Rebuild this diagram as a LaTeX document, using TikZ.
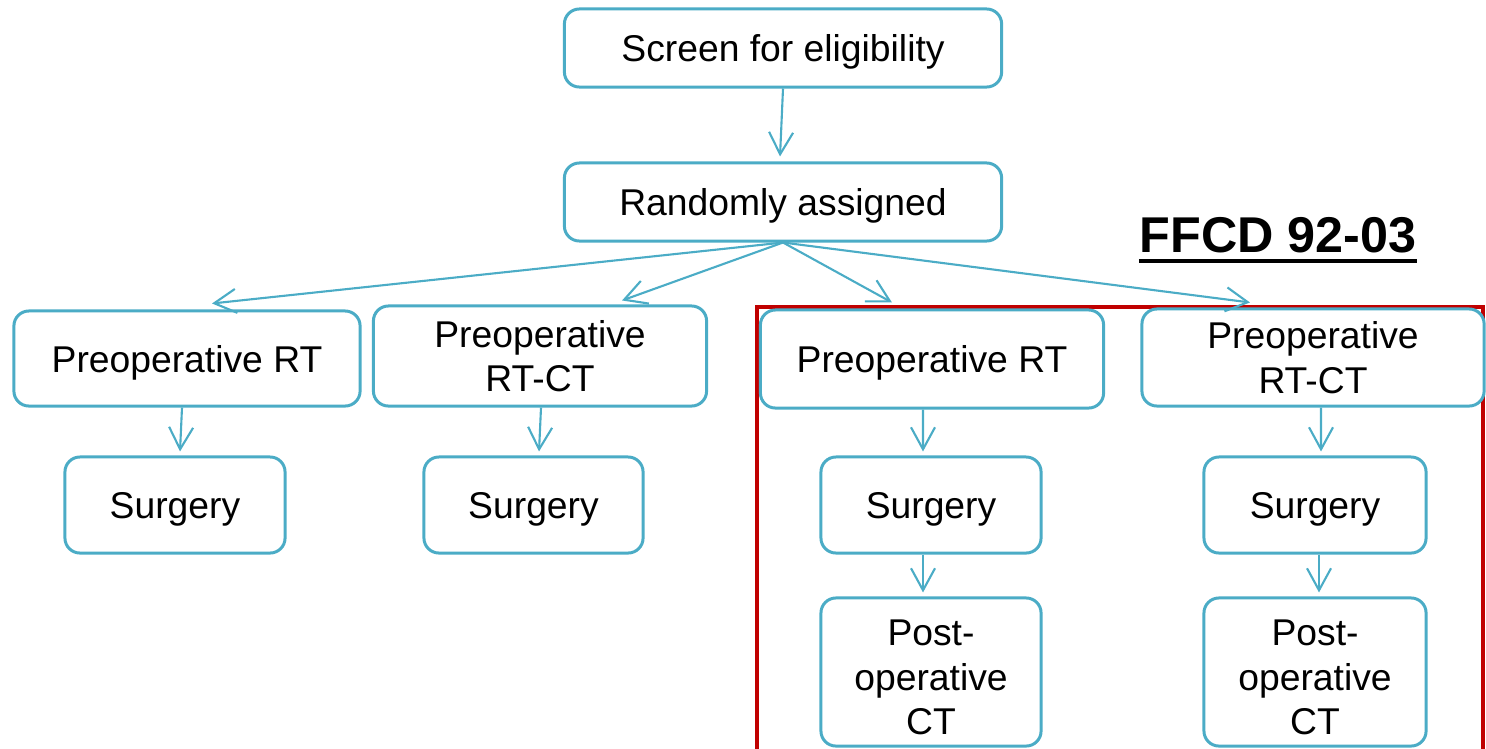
\documentclass[tikz,border=0pt]{standalone}
\usepackage{fontspec}
\setmainfont{Liberation Sans}
\usetikzlibrary{arrows.meta}
\definecolor{boxblue}{HTML}{4BACC6}
\definecolor{darkred}{HTML}{C00000}
\tikzset{
  box/.style={draw=boxblue, line width=0.85pt, rounded corners=0.15cm, fill=white,
    align=center, inner sep=0pt, font=\fontsize{10.6pt}{12.7pt}\selectfont},
  oneline/.style={text height=9.9pt, text depth=2.2pt},
  arr/.style={draw=boxblue, line width=0.6pt, -{Straight Barb[length=2.2mm,width=2.4mm]}},
  title/.style={inner sep=0pt, font=\fontsize{14.3pt}{16pt}\selectfont\bfseries}
}
\begin{document}
\begin{tikzpicture}[x=0.01cm, y=-0.01cm]
\useasboundingbox (0,0) rectangle (1486,748);
% red frame
\draw[darkred, line width=1.1pt] (757,307) rectangle (1483,800);
% nodes
\node[box, oneline, minimum width=4.37cm, minimum height=0.78cm] (scr) at (783,48) {Screen for eligibility};
\node[box, oneline, minimum width=4.37cm, minimum height=0.78cm] (rnd) at (783,202) {Randomly assigned};
\node[box, oneline, minimum width=3.46cm, minimum height=0.95cm] (a1) at (187,358.5) {Preoperative RT};
\node[box, minimum width=3.33cm, minimum height=1.00cm] (a2) at (540,356) {Preoperative\\RT-CT};
\node[box, oneline, minimum width=3.43cm, minimum height=0.98cm] (a3) at (932,359) {Preoperative RT};
\node[box, minimum width=3.42cm, minimum height=0.97cm] (a4) at (1313,357.5) {Preoperative\\RT-CT};
\node[box, oneline, minimum width=2.20cm, minimum height=0.96cm] (s1) at (175,505) {Surgery};
\node[box, oneline, minimum width=2.19cm, minimum height=0.96cm] (s2) at (533.5,505) {Surgery};
\node[box, oneline, minimum width=2.20cm, minimum height=0.96cm] (s3) at (931,505) {Surgery};
\node[box, oneline, minimum width=2.22cm, minimum height=0.96cm] (s4) at (1315,505) {Surgery};
\node[box, minimum width=2.20cm, minimum height=1.48cm] (p3) at (931,672) {\rule{0pt}{10.4pt}Post-\\operative\\CT};
\node[box, minimum width=2.22cm, minimum height=1.48cm] (p4) at (1315,672) {\rule{0pt}{10.4pt}Post-\\operative\\CT};
\node[title] (ffcd) at (1278,235) {FFCD 92-03};
\draw[line width=1pt] ([yshift=-0.085cm]ffcd.base west) -- ([yshift=-0.085cm]ffcd.base east);
% connectors
\draw[arr] (scr.south) -- ([xshift=-0.03cm, yshift=0.05cm]rnd.north);
\draw[arr] (rnd.south) -- ([xshift=0.25cm, yshift=0.06cm]a1.north);
\draw[arr] (rnd.south) -- ([xshift=0.82cm, yshift=0.04cm]a2.north);
\draw[arr] (rnd.south) -- ([xshift=-0.40cm, yshift=0.06cm]a3.north);
\draw[arr] (rnd.south) -- ([xshift=-0.63cm, yshift=0.05cm]a4.north);
\draw[arr] ([xshift=-0.05cm]a1.south) -- ([xshift=0.05cm, yshift=0.04cm]s1.north);
\draw[arr] ([xshift=0.01cm]a2.south) -- ([xshift=0.055cm, yshift=0.04cm]s2.north);
\draw[arr] ([xshift=-0.09cm]a3.south) -- ([xshift=-0.08cm, yshift=0.04cm]s3.north);
\draw[arr] ([xshift=0.08cm]a4.south) -- ([xshift=0.06cm, yshift=0.04cm]s4.north);
\draw[arr] ([xshift=-0.08cm]s3.south) -- ([xshift=-0.08cm, yshift=0.04cm]p3.north);
\draw[arr] ([xshift=0.04cm]s4.south) -- ([xshift=0.04cm, yshift=0.04cm]p4.north);
\end{tikzpicture}
\end{document}
